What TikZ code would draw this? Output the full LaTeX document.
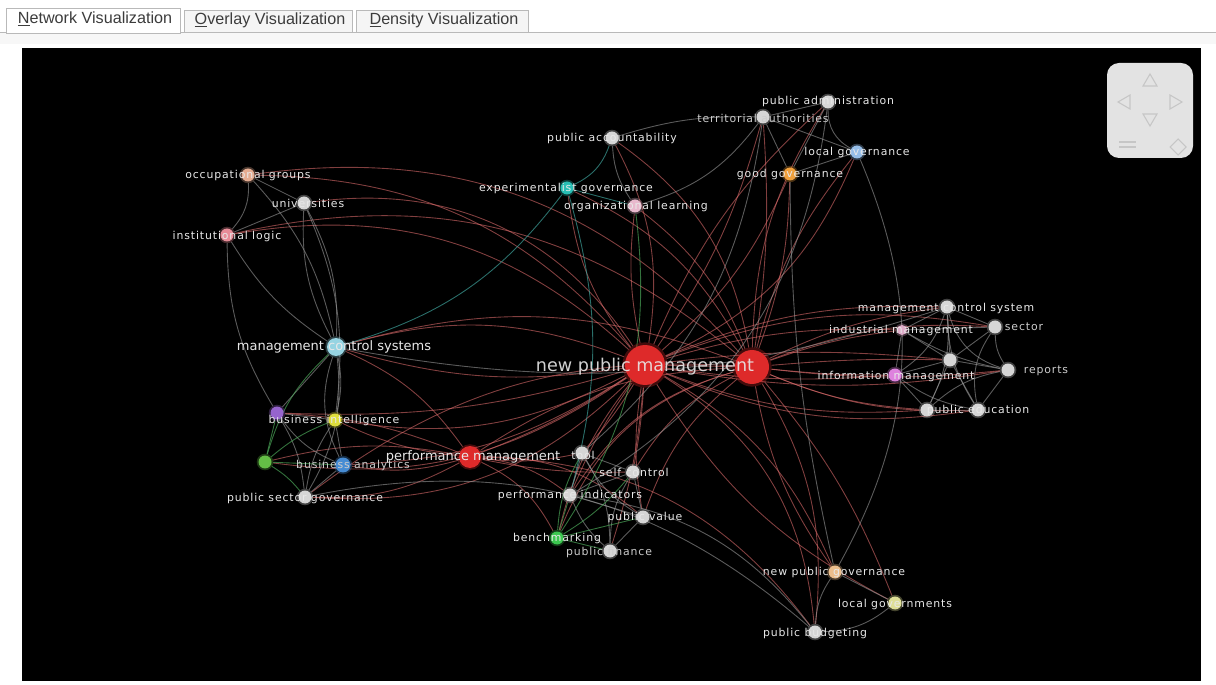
\documentclass[tikz,border=0pt]{standalone}
\usepackage{fontspec}
\setmainfont{DejaVu Sans}
\newfontfamily\lblfamily[LetterSpace=8]{DejaVu Sans}
\newfontfamily\tabfamily{Liberation Sans}
\newcommand\lblfont{\lblfamily\fontsize{6.2}{7}\selectfont}
\newcommand\midfont{\fontsize{7.4}{8}\selectfont}
\newcommand\bigfont{\fontsize{10}{11}\selectfont}
\newcommand\tabfont{\tabfamily\fontsize{9.2}{10}\selectfont}

\definecolor{npmred}{RGB}{222,42,42}
\definecolor{mcscyan}{RGB}{150,212,226}
\definecolor{egteal}{RGB}{40,190,180}
\definecolor{olpink}{RGB}{232,185,205}
\definecolor{ogpeach}{RGB}{228,172,145}
\definecolor{ilpink}{RGB}{232,140,152}
\definecolor{nodewhite}{RGB}{214,214,214}
\definecolor{lgoblue}{RGB}{150,190,232}
\definecolor{ggorange}{RGB}{240,160,60}
\definecolor{bipurple}{RGB}{150,100,205}
\definecolor{biyellow}{RGB}{222,222,60}
\definecolor{bgreen}{RGB}{100,190,70}
\definecolor{bablue}{RGB}{70,140,212}
\definecolor{benchgreen}{RGB}{60,200,80}
\definecolor{npgpeach}{RGB}{236,190,140}
\definecolor{lgsyellow}{RGB}{222,222,150}
\definecolor{indpink}{RGB}{222,172,200}
\definecolor{infmagenta}{RGB}{222,130,222}
\definecolor{edgered}{RGB}{215,105,105}
\definecolor{labelgray}{RGB}{232,232,232}
\definecolor{tabtext}{RGB}{60,60,60}

\pgfdeclarelayer{bg}
\pgfdeclarelayer{links}
\pgfsetlayers{bg,links,main}

\begin{document}
\begin{tikzpicture}[x=0.02cm, y=-0.02cm,
  dot/.style={circle, inner sep=0pt, minimum size=2.6mm, fill=#1, draw=#1, draw opacity=.3, line width=2pt},
  lbl/.style={font=\lblfont, text=labelgray, inner sep=0pt},
  faint/.style={font=\lblfont, text=gray!40, inner sep=0pt},
  midlbl/.style={font=\midfont, text=labelgray, inner sep=0pt},
  redge/.style={draw=edgered, line width=.5pt, opacity=.6},
  gedge/.style={draw=gray!80, line width=.5pt, opacity=.6},
  greenedge/.style={draw=benchgreen!70!gray, line width=.5pt, opacity=.65},
  tealedge/.style={draw=egteal!70!gray, line width=.5pt, opacity=.65},
  tabbox/.style={draw=gray!55, line width=.5pt},
  padmark/.style={draw=gray!45, line width=.6pt}]
\useasboundingbox (0,0) rectangle (1216,685);

\begin{pgfonlayer}{bg}
  % window, tabs and the black canvas
  \fill[white] (0,0) rectangle (1216,685);
  \draw[gray!55] (0,32) -- (6,32);
  \draw[gray!55] (180,32) -- (1216,32);
  \fill[gray!6] (0,33) rectangle (1216,44);
  \draw[tabbox, fill=gray!8] (184,10) rectangle (352,32);
  \draw[tabbox, fill=gray!8] (356,10) rectangle (528,32);
  \draw[tabbox, fill=white] (6,8) rectangle (180,33);
  \node[font=\tabfont, text=tabtext] (tabnet) at (95,19) {\underline{N}etwork Visualization};
  \node[font=\tabfont, text=tabtext] (tabover) at (270,20) {\underline{O}verlay Visualization};
  \node[font=\tabfont, text=tabtext] (tabdens) at (444,20) {\underline{D}ensity Visualization};
  \fill[black] (22,48) rectangle (1201,681);
  % navigation pad
  \fill[gray!22, rounded corners=0.24cm] (1107,63) rectangle (1193,158);
  \draw[padmark] (1143,86) -- (1157,86) -- (1150,74) -- cycle;
  \draw[padmark] (1130,95) -- (1130,109) -- (1118,102) -- cycle;
  \draw[padmark] (1170,95) -- (1170,109) -- (1182,102) -- cycle;
  \draw[padmark] (1143,114) -- (1157,114) -- (1150,126) -- cycle;
  \draw[padmark] (1119,142) -- (1136,142) (1119,147) -- (1136,147);
  \draw[padmark] (1178,139) -- (1186,147) -- (1178,155) -- (1170,147) -- cycle;
\end{pgfonlayer}

% nodes
\node[dot=npmred, minimum size=8mm, line width=3pt] (npma) at (645,365) {};
\node[dot=npmred, minimum size=6.8mm, line width=3pt] (npmb) at (752,367) {};
\node[dot=npmred, minimum size=4.4mm] (pmgt) at (470,457) {};
\node[dot=mcscyan, minimum size=3.6mm] (mcs) at (336,347) {};
\node[dot=nodewhite] (pa) at (828,102) {};
\node[dot=nodewhite] (ta) at (763,117) {};
\node[dot=nodewhite] (pacc) at (612,138) {};
\node[dot=lgoblue] (lgo) at (857,152) {};
\node[dot=ggorange] (gg) at (790,174) {};
\node[dot=egteal] (eg) at (567,188) {};
\node[dot=olpink] (ol) at (635,206) {};
\node[dot=ogpeach] (og) at (248,175) {};
\node[dot=nodewhite] (univ) at (304,203) {};
\node[dot=ilpink] (il) at (227,235) {};
\node[dot=bipurple] (bip) at (277,413) {};
\node[dot=biyellow] (bi) at (335,420) {};
\node[dot=bgreen] (bgr) at (265,462) {};
\node[dot=bablue, minimum size=3mm] (ba) at (343,465) {};
\node[dot=nodewhite] (psg) at (305,497) {};
\node[dot=nodewhite] (tool) at (582,453) {};
\node[dot=nodewhite] (sc) at (633,472) {};
\node[dot=nodewhite] (pi) at (570,495) {};
\node[dot=nodewhite] (pv) at (643,517) {};
\node[dot=benchgreen] (bench) at (557,538) {};
\node[dot=nodewhite] (pf) at (610,551) {};
\node[dot=npgpeach] (npg) at (835,572) {};
\node[dot=lgsyellow] (lgs) at (895,603) {};
\node[dot=nodewhite] (pb) at (815,632) {};
\node[dot=nodewhite] (mcsy) at (947,307) {};
\node[dot=indpink, minimum size=2mm] (indm) at (902,330) {};
\node[dot=nodewhite] (sect) at (995,327) {};
\node[dot=nodewhite] (mid) at (950,360) {};
\node[dot=nodewhite] (rep) at (1008,370) {};
\node[dot=infmagenta] (infm) at (895,375) {};
\node[dot=nodewhite] (pe2) at (927,410) {};
\node[dot=nodewhite] (pe) at (978,410) {};

% links
\begin{pgfonlayer}{links}
  \foreach \b/\ang in {mcs/-18, mcs/12, il/-26, univ/-32, bi/18, ba/15, psg/24, bip/9, bgr/21,
      pmgt/6, tool/5, sc/3, pi/-6, pv/-9, bench/-12, pf/6, pa/12, ta/-9, pacc/-18, gg/-12, lgo/-21,
      eg/15, ol/9, npg/18, lgs/-15, pb/26, mcsy/12, indm/9, sect/15, mid/6, rep/-9, infm/-6,
      pe/-15, pe2/-12, npmb/0}
    \draw[redge] (npma) to[bend left=\ang] (\b);
  \draw[redge] (og) to[bend left=24] (npma);
  \draw[redge] (og) to[bend left=28] (npmb);
  \foreach \b/\ang in {gg/-9, pa/15, ta/-6, lgo/12, ol/-15, pacc/-22, mcsy/9, indm/6, sect/12,
      mid/3, rep/-6, infm/-3, pe/-12, pe2/-9, npg/-12, lgs/9, pb/18, pmgt/-15, mcs/-18, pi/-20,
      sc/-15, pv/-15, bench/-26, eg/-18, psg/-20, il/-26}
    \draw[redge] (npmb) to[bend left=\ang] (\b);
  \foreach \b/\ang in {mcs/-15, bi/9, ba/12, psg/15, bgr/-12, bip/-9, tool/-9, pi/15, bench/18,
      pv/20, sc/-6, pb/26}
    \draw[redge] (pmgt) to[bend left=\ang] (\b);
  \foreach \a/\b/\ang in {univ/mcs/15, univ/mcs/-15, il/mcs/-12, og/mcs/15, og/univ/0, og/il/22,
      univ/il/0, univ/bi/15, il/bip/-15, mcs/bi/12, mcs/bip/0, mcs/ba/-22, mcs/psg/18, bip/bi/0,
      bip/psg/12, bip/ba/-15, bi/ba/0, bi/psg/-12, ba/psg/0, tool/sc/0, tool/pi/0, tool/pv/-15,
      tool/pf/15, sc/pi/0, sc/pv/0, pi/pv/0, pi/pf/-12, pv/pf/0, sc/pf/-15, pa/ta/0, pa/lgo/-30,
      ta/lgo/0, gg/lgo/0, gg/pa/0, gg/ta/0, ta/ol/18, ta/pacc/-9, ta/tool/20, pa/pi/26,
      lgo/npg/26, gg/npg/-6, npg/lgs/0, npg/pb/-15, lgs/pb/18, pb/pi/-22, pb/psg/-26,
      mcsy/indm/0, mcsy/sect/0, mcsy/mid/0, mcsy/rep/-28, mcsy/infm/18, mcsy/pe/-15,
      mcsy/pe2/15, indm/sect/0, indm/mid/0, indm/infm/0, indm/rep/-9, sect/mid/0, sect/rep/-15,
      sect/pe/-22, mid/rep/0, mid/infm/0, mid/pe/0, mid/pe2/0, rep/pe/0, rep/pe2/-15,
      infm/pe2/0, infm/pe/-12, pe2/pe/0, mcs/mcsy/-14, pacc/ol/-15}
    \draw[gedge] (\a) to[bend left=\ang] (\b);
  \foreach \a/\b/\ang in {bench/tool/12, bench/sc/-9, bench/pi/0, bench/pv/0, bench/pf/0,
      bgr/mcs/15, bgr/bip/0, bgr/bi/9, bgr/ba/0, bgr/psg/9, ol/bench/20}
    \draw[greenedge] (\a) to[bend left=\ang] (\b);
  \foreach \a/\b/\ang in {pacc/eg/22, eg/ol/0, eg/pi/15, eg/mcs/18}
    \draw[tealedge] (\a) to[bend left=\ang] (\b);
\end{pgfonlayer}

% labels
\node[font=\bigfont, text=labelgray, text opacity=.9, inner sep=0pt] (npma-l) at (645,367) {new public management};
\node[midlbl] (pmgt-l) at (473,457) {performance management};
\node[midlbl] (mcs-l) at (334,347) {management control systems};
\node[lbl] (pa-l) at (828,102) {public administration};
\node[faint] (ta-l) at (763,118) {territorial authorities};
\node[lbl] (pacc-l) at (612,138) {public accountability};
\node[lbl] (lgo-l) at (857,152) {local governance};
\node[lbl] (gg-l) at (790,174) {good governance};
\node[lbl] (eg-l) at (566,188) {experimentalist governance};
\node[lbl] (ol-l) at (636,206) {organizational learning};
\node[lbl] (og-l) at (248,175) {occupational groups};
\node[lbl] (univ-l) at (308,203) {universities};
\node[lbl] (il-l) at (227,236) {institutional logic};
\node[lbl] (bi-l) at (334,420) {business intelligence};
\node[faint] (ba-l) at (353,465) {business analytics};
\node[lbl] (psg-l) at (305,498) {public sector governance};
\node[lbl] (tool-l) at (583,455) {tool};
\node[lbl] (sc-l) at (634,472) {self control};
\node[lbl] (pi-l) at (570,495) {performance indicators};
\node[lbl] (pv-l) at (645,517) {public value};
\node[lbl] (bench-l) at (557,538) {benchmarking};
\node[faint] (pf-l) at (609,552) {public finance};
\node[lbl] (npg-l) at (834,572) {new public governance};
\node[lbl] (lgs-l) at (895,604) {local governments};
\node[lbl] (pb-l) at (815,633) {public budgeting};
\node[lbl] (mcsy-l) at (946,308) {management control system};
\node[lbl] (indm-l) at (901,330) {industrial management};
\node[faint] (sect-l) at (1024,327) {sector};
\node[faint] (rep-l) at (1046,371) {reports};
\node[lbl] (infm-l) at (896,376) {information management};
\node[lbl] (pe-l) at (978,410) {public education};
\end{tikzpicture}
\end{document}
